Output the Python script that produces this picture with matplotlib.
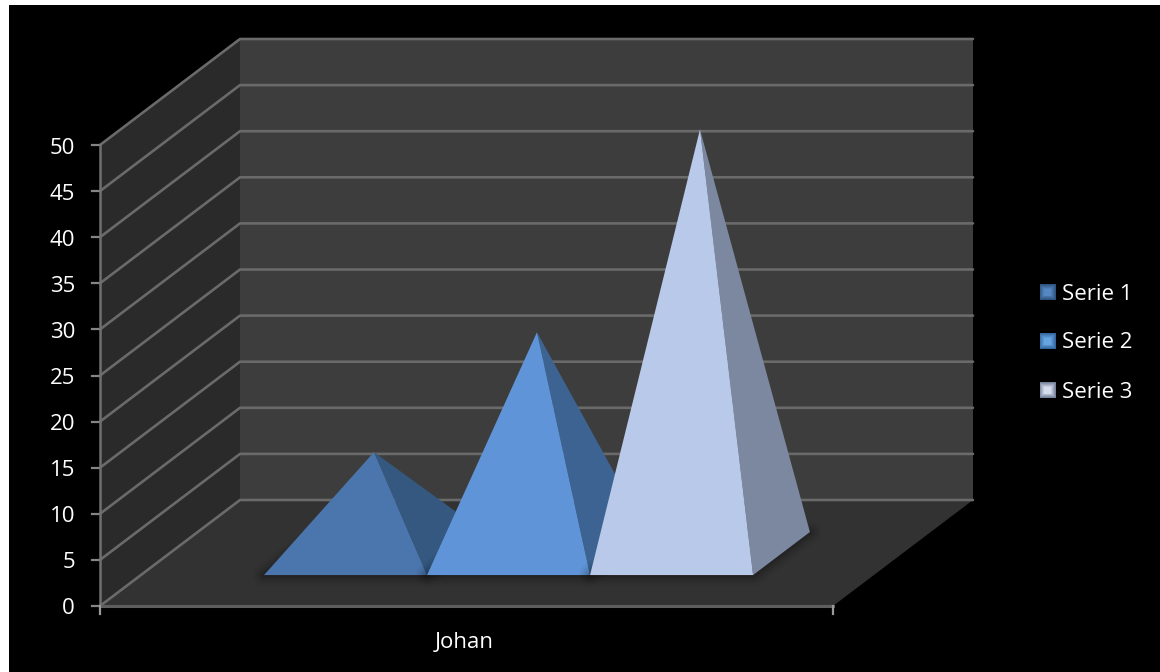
import numpy as np
import matplotlib
matplotlib.use('Agg')
import matplotlib.pyplot as plt
from matplotlib.colors import to_rgb
from matplotlib.patches import Polygon, Rectangle

plt.rcParams['font.family'] = ['Open Sans', 'DejaVu Sans']

# data
category = 'Johan'
series_names = ['Serie 1', 'Serie 2', 'Serie 3']
series_values = [11, 24, 46]
y_ticks = [0, 5, 10, 15, 20, 25, 30, 35, 40, 45, 50]

# colours per series: front face, side face, legend key edge, legend key centre
front_cols = ['#4a76ad', '#5f95d8', '#b9c9e9']
side_cols = ['#34587f', '#3c6392', '#7b889f']
key_dark = ['#2f5480', '#35679f', '#75829c']
key_light = ['#5488c2', '#66a4e2', '#d5dcec']

grid_col = '#6a6a6a'
Y_MAX = 50
FS = 16


# 3d box -> pixel position. x 0..1 along the floor, d 0..1 going back
def project(x, v, d=0.0):
    px = 100 + 733 * x + 140 * d
    py = 606 - 9.22 * v - 106 * d
    return px, py


fig = plt.figure(figsize=(11.6, 6.72), dpi=100, facecolor='white')
ax = fig.add_axes([0, 0, 1, 1])
ax.set_xlim(0, 1160)
ax.set_ylim(672, 0)
ax.axis('off')
ax.add_patch(Rectangle((9, 5), 1151, 667, fc='black', ec='none', zorder=0))

# walls and floor
back = [project(0, 0, 1), project(1, 0, 1), project(1, Y_MAX, 1), project(0, Y_MAX, 1)]
left = [project(0, 0, 0), project(0, 0, 1), project(0, Y_MAX, 1), project(0, Y_MAX, 0)]
floor = [project(0, 0, 0), project(1, 0, 0), project(1, 0, 1), project(0, 0, 1)]
ax.add_patch(Polygon(back, fc='#3d3d3d', ec='none', zorder=1))
ax.add_patch(Polygon(left, fc='#2a2a2a', ec='none', zorder=1))
ax.add_patch(Polygon(floor, fc='#323232', ec='none', zorder=1))

# grid lines run along the left wall and then the back wall
for v in y_ticks:
    pts = np.array([project(0, v, 0), project(0, v, 1), project(1, v, 1)])
    ax.plot(pts[:, 0], pts[:, 1], c=grid_col, lw=1.9, zorder=2, solid_capstyle='round')
    px, py = project(0, v, 0)
    ax.plot([px - 8, px], [py, py], c='#858585', lw=1.6, zorder=3)
    ax.text(75, py + 3, str(v), color='white', fontsize=FS, ha='right', va='center', zorder=5)

# axis lines
p0 = project(0, 0, 0)
p1 = project(1, 0, 0)
p2 = project(0, Y_MAX, 0)
ax.plot([p0[0], p2[0]], [p0[1], p2[1]], c='#707070', lw=1.8, zorder=3)
ax.plot([p0[0], p1[0]], [p0[1], p1[1]], c='#5e5e5e', lw=2.2, zorder=3)
for p in (p0, p1):
    ax.plot([p[0], p[0]], [p[1], p[1] + 8], c='#9a9a9a', lw=1.6, zorder=3)
ax.text(464, 642, category, color='white', fontsize=FS, ha='center', va='center', zorder=5)

# pyramids, one per series
start = 0.168
width = 0.2224
d_front = 0.292
d_back = 0.698
for i, val in enumerate(series_values):
    x0 = start + i * width
    x1 = x0 + width
    fl = project(x0, 0, d_front)
    fr = project(x1, 0, d_front)
    br = project(x1, 0, d_back)
    top = project((x0 + x1) / 2, val, (d_front + d_back) / 2)
    # soft shadow on the floor
    for lw, a in zip([16, 12, 8, 4], [0.04, 0.06, 0.08, 0.12]):
        ax.add_patch(Polygon([fl, fr, br, project(x0, 0, d_back)], fc='none', ec='black',
                             lw=lw, alpha=a, zorder=4 + i * 0.1, joinstyle='round'))
    ax.add_patch(Polygon([fr, br, top], fc=side_cols[i], ec='none', zorder=4.02 + i * 0.1))
    ax.add_patch(Polygon([fl, fr, top], fc=front_cols[i], ec='none', zorder=4.03 + i * 0.1))

# legend keys are small bevelled squares, lighter towards the middle
steps = 6
for i, name in enumerate(series_names):
    yc = 292 + i * 49
    dark = np.array(to_rgb(key_dark[i]))
    light = np.array(to_rgb(key_light[i]))
    for s in range(steps):
        t = s / (steps - 1)
        half = 8 - 4.5 * t
        ax.add_patch(Rectangle((1047.5 - half, yc - half), 2 * half, 2 * half,
                               fc=tuple(dark + (light - dark) * t), ec='none', zorder=5))
    ax.text(1062, yc + 2, name, color='white', fontsize=FS, ha='left', va='center', zorder=5)

fig.savefig('out.png', dpi=100, facecolor='white')
